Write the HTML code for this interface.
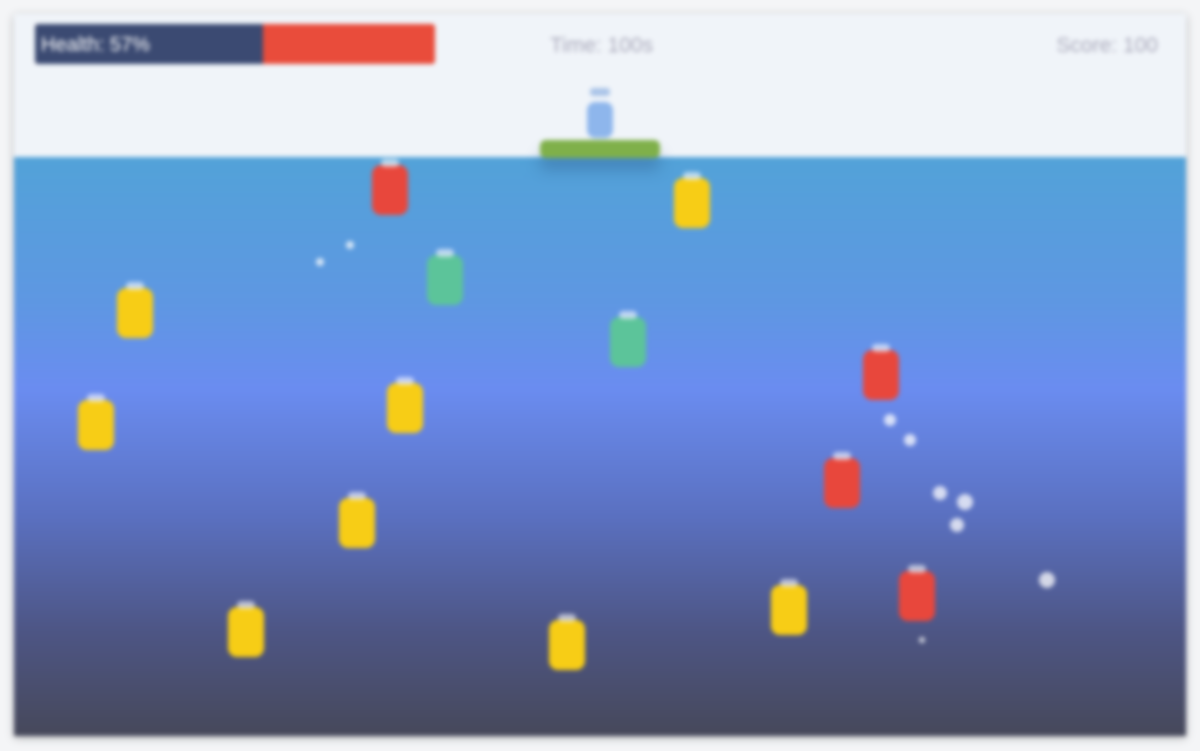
<!DOCTYPE html>
<html><head><meta charset="utf-8"><style>
html,body{margin:0;padding:0;width:1200px;height:751px;background:#f4f5f7;overflow:hidden;font-family:"Liberation Sans",sans-serif}
#card{position:absolute;left:14px;top:14px;width:1172px;height:722px;background:#f0f4f9;box-shadow:0 2px 8px rgba(0,0,0,.25);overflow:hidden;filter:blur(2.5px)}
#water{position:absolute;left:0;top:143px;width:1172px;height:579px;background:linear-gradient(#52a2d8 0%,#5e97e2 25%,#6a8cf0 40%,#5a70c0 62%,#4d5584 82%,#46485a 100%)}
.item{position:absolute;width:36px;height:50px;border-radius:9px}
.item:before{content:"";position:absolute;left:9px;top:-6px;width:18px;height:8px;border-radius:4px;background:rgba(255,255,255,.6)}
.bub{position:absolute;border-radius:50%;background:rgba(255,255,255,.75)}
</style></head><body>
<div id="card">
  <div id="water"></div>
  <div style="position:absolute;left:21px;top:10px;width:400px;height:40px;background:#e94c3b;border-radius:3px;overflow:hidden">
    <div style="width:228px;height:40px;background:#3b4a72"></div>
    <span style="position:absolute;left:6px;top:10px;color:#fff;font-size:20px">Health: 57%</span>
  </div>
  <div style="position:absolute;left:536px;top:20px;color:#aab;font-size:21px">Time: 100s</div>
  <div style="position:absolute;right:28px;top:20px;color:#aab;font-size:21px">Score: 100</div>
  <div style="position:absolute;left:526px;top:126px;width:120px;height:18px;background:#7fb04a;border-radius:6px;box-shadow:0 12px 14px rgba(40,80,130,.35)"></div>
  <div style="position:absolute;left:573px;top:88px;width:26px;height:36px;background:#8eb6ec;border-radius:8px"></div>
  <div style="position:absolute;left:576px;top:74px;width:20px;height:8px;background:#aac4e8;border-radius:3px"></div>
</div>
<script>
const itemX=[390,692,445,135,628,881,96,405,842,357,917,246,567,789];
const itemY=[190,203,280,313,342,375,425,408,483,523,596,632,645,610];
const itemKind=["red","yellow","green","yellow","green","red","yellow","yellow","red","yellow","red","yellow","yellow","yellow"];
const bubX=[320,350,890,910,940,965,957,1047,922];
const bubY=[262,245,420,440,493,502,525,580,640];
const bubR=[4,4,6,6,7,8,7,8,3];
const colors={red:"#e8473c",yellow:"#f7cd16",green:"#5cc49a"};
const card=document.getElementById('card');
itemX.forEach((x,i)=>{
  const d=document.createElement('div');
  d.className='item';
  
  
  d.style.left=(x-18-14)+'px';d.style.top=(itemY[i]-25-14)+'px';
  d.style.background=colors[itemKind[i]];
  card.appendChild(d);
});
bubX.forEach((x,i)=>{
  const d=document.createElement('div');
  d.className='bub';
  
  
  const r=bubR[i];
  d.style.left=(x-r-14)+'px';d.style.top=(bubY[i]-r-14)+'px';
  d.style.width=d.style.height=(2*r)+'px';
  card.appendChild(d);
});
</script>
</body></html>
